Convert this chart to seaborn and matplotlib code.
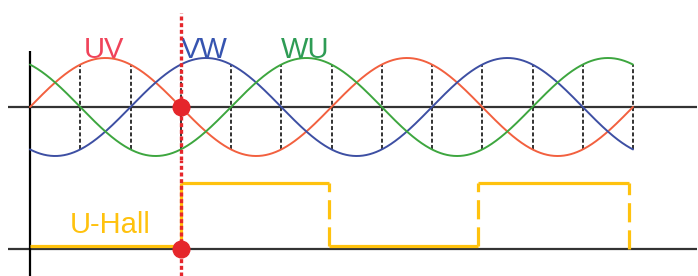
import numpy as np
import pandas as pd
import matplotlib
matplotlib.use("Agg")
import matplotlib.pyplot as plt
import seaborn as sns

# phase signals (degrees of electrical angle)
signal_names = ["UV", "VW", "WU"]
phase_shift = [0, 120, 240]          # lag of each line voltage
signal_colors = ["#f2603f", "#3d4fa3", "#3da63f"]
label_colors = ["#f0435a", "#3654b0", "#2e9c55"]

# commutation marks every 60 degrees
mark_angles = [60, 120, 180, 240, 300, 360, 420, 480, 540, 600, 660, 720]
event_angle = 180

# U-Hall sensor output
hall_edges = [0, 180, 357, 535, 715]
hall_levels = [0.05, 1, 0.05, 1]
hall_color = "#ffc20e"

sns.set_style("white")
plt.rcParams["font.family"] = ["Liberation Sans", "DejaVu Sans"]

theta = np.linspace(0, 720, 1441)
rows = []
for name, ph in zip(signal_names, phase_shift):
    rows.append(pd.DataFrame({"theta": theta,
                              "value": np.sin(np.radians(theta - ph)),
                              "signal": name}))
df = pd.concat(rows, ignore_index=True)

fig = plt.figure(figsize=(6.98, 2.76), dpi=100)
px = 0.8375  # pixels per degree
xlim = (-30 / px, (698 - 30) / px)

ax_top = fig.add_axes([0, 116 / 276, 1, 160 / 276])
ax_bot = fig.add_axes([0, 0, 1, 116 / 276])
ax_top.set_xlim(xlim)
ax_bot.set_xlim(xlim)
ax_top.set_ylim(-(160 - 107) / 49, 107 / 49)
ax_bot.set_ylim(-27 / 66, 89 / 66)

# axes lines
for ax in (ax_top, ax_bot):
    ax.hlines(0, -26, 796, color="#333333", lw=1.6, zorder=1)
ax_top.vlines(0, ax_top.get_ylim()[0], 56 / 49, color="black", lw=1.6, zorder=1)
ax_bot.vlines(0, *ax_bot.get_ylim(), color="black", lw=1.6, zorder=1)

# dashed commutation lines spanning the three curves
for a in mark_angles:
    vals = [np.sin(np.radians(a - ph)) for ph in phase_shift]
    ax_top.vlines(a, min(vals), max(vals), color="#222222", lw=1.3,
                  linestyles=(0, (2.2, 1.3)), zorder=2)

sns.lineplot(data=df, x="theta", y="value", hue="signal",
             palette=dict(zip(signal_names, signal_colors)),
             lw=1.4, legend=False, ax=ax_top, zorder=3)

for name, ph, c in zip(signal_names, phase_shift, label_colors):
    ax_top.text(ph + 88, 0.99, name, color=c, fontsize=21,
                ha="center", va="baseline", zorder=4)

# hall signal
for i, lvl in enumerate(hall_levels):
    ax_bot.hlines(lvl, hall_edges[i], hall_edges[i + 1], color=hall_color,
                  lw=2.3, zorder=3)
for i in range(1, len(hall_edges)):
    lo = min(hall_levels[i - 1], hall_levels[i] if i < len(hall_levels) else 0)
    ls = "solid" if i == 1 else (0, (6, 2.5))
    ax_bot.vlines(hall_edges[i], lo if i < 4 else 0, 1, color=hall_color,
                  lw=2.3, linestyles=ls, zorder=3)
ax_bot.text(48, 0.24, "U-Hall", color=hall_color, fontsize=21,
            ha="left", va="baseline")

# event line and markers
ax_top.vlines(event_angle, ax_top.get_ylim()[0], (107 - 13) / 49, color="#e5262b",
              lw=2.4, linestyles=(0, (1.2, 0.8)), zorder=5)
ax_bot.vlines(event_angle, *ax_bot.get_ylim(), color="#e5262b",
              lw=2.4, linestyles=(0, (1.2, 0.8)), zorder=5)
for ax in (ax_top, ax_bot):
    ax.plot([event_angle], [0], "o", color="#e5262b", ms=12, zorder=6)
    ax.set_axis_off()

fig.savefig("out.png", dpi=100)
